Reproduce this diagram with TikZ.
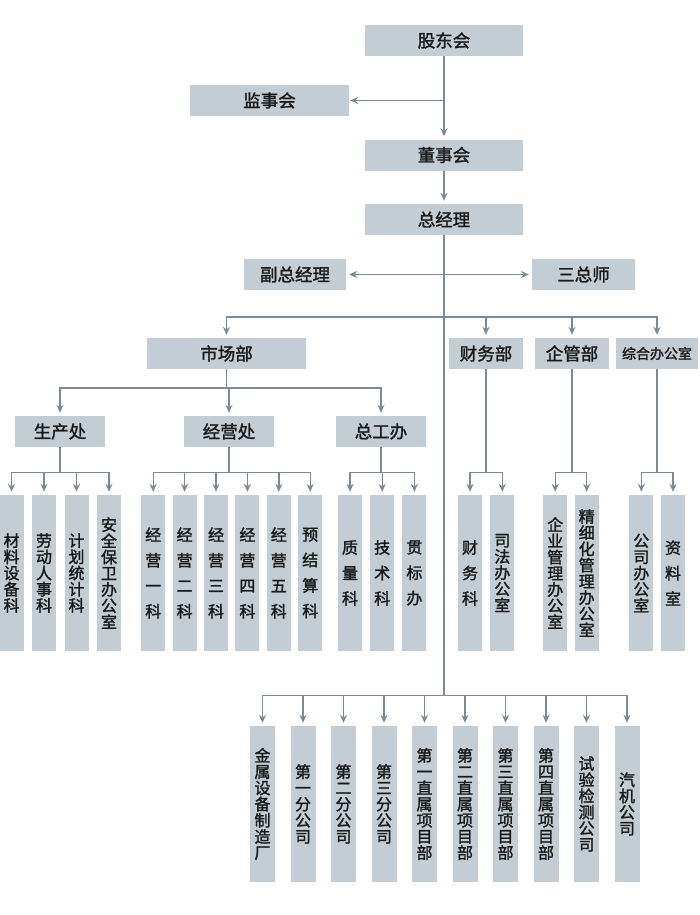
\documentclass[tikz,border=0pt]{standalone}
\usepackage{fontspec}
\newfontfamily\cjk[RawFeature={embolden=1.6}]{Noto Sans CJK SC}
\usetikzlibrary{arrows.meta}
\definecolor{boxgray}{HTML}{C3CDD3}
\definecolor{linegray}{HTML}{7B8A93}
\definecolor{textdark}{HTML}{1A1A1A}
\tikzset{
  box/.style={fill=boxgray, text=textdark, inner sep=0pt, minimum height=31pt,
    font=\cjk\fontsize{17.5}{18}\selectfont},
  leaf/.style={fill=boxgray, text=textdark, inner sep=0pt, minimum width=24pt,
    minimum height=156pt, align=center, font=\cjk\fontsize{16}{16.2}\selectfont},
  leafwide/.style={leaf, font=\cjk\fontsize{16}{25.5}\selectfont},
  conn/.style={draw=linegray, line width=1.4pt},
  arr/.style={conn, -{Stealth[length=8pt,width=7pt]}, shorten >=3pt},
}

\begin{document}
\begin{tikzpicture}[x=1pt,y=-1pt]
\useasboundingbox (0,0) rectangle (700,915);

% top of the chart
\node[box, minimum width=158pt] (gudong) at (444,40.5) {股东会};
\node[box, minimum width=159pt] (jianshi) at (269.5,100.5) {监事会};
\node[box, minimum width=158pt] (dongshi) at (444,155) {董事会};
\node[box, minimum width=158pt] (zongjingli) at (444,219.5) {总经理};
\node[box, minimum width=102pt] (fuzong) at (295,274.5) {副总经理};
\node[box, minimum width=103pt] (sanzongshi) at (583.5,274.5) {三总师};

\coordinate (jsfork) at (444,100.5);
\coordinate (gongbus) at (444,317);
\coordinate (fenbus) at (444,695.7);

\draw[arr] (gudong) -- (dongshi);
\draw[arr, shorten >=1pt] (jsfork) -- (jianshi);
\draw[arr] (dongshi) -- (zongjingli);
\draw[conn] (zongjingli) -- (fenbus);
\draw[conn, {Stealth[length=8pt,width=7pt]}-{Stealth[length=8pt,width=7pt]},
  shorten <=3pt, shorten >=3pt] (fuzong) -- (sanzongshi);

% departments
\node[box, minimum width=159pt] (shichang) at (226.5,353.5) {市场部};
\node[box, minimum width=74pt] (caiwu) at (486,353.5) {财务部};
\node[box, minimum width=74pt] (qiguan) at (572,353.5) {企管部};
\node[box, minimum width=82pt, font=\cjk\fontsize{14}{15}\selectfont] (zonghe) at (657,353.5) {综合办公室};
\foreach \n in {shichang,caiwu,qiguan,zonghe}
  \draw[arr] (gongbus) -| (\n);

\node[box, minimum width=90pt] (shengchan) at (60,431.5) {生产处};
\node[box, minimum width=90pt] (jingying) at (229,431.5) {经营处};
\node[box, minimum width=90pt] (zonggong) at (381,431.5) {总工办};
\coordinate (scfork) at (226.5,388);
\draw[conn] (shichang) -- (scfork);
\foreach \n in {shengchan,jingying,zonggong}
  \draw[arr] (scfork) -| (\n);

% sections
\foreach \t [count=\i] in {{材\\料\\设\\备\\科},{劳\\动\\人\\事\\科},{计\\划\\统\\计\\科},{安\\全\\保\\卫\\办\\公\\室}}
  \node[leaf] (sc\i) at ({11.5+32.5*(\i-1)},573) {\t};
\foreach \t [count=\i] in {{经\\营\\一\\科},{经\\营\\二\\科},{经\\营\\三\\科},{经\\营\\四\\科},{经\\营\\五\\科},{预\\结\\算\\科}}
  \node[leafwide] (jy\i) at ({153.2+31.4*(\i-1)},573) {\t};
\foreach \t [count=\i] in {{质\\量\\科},{技\\术\\科},{贯\\标\\办}}
  \node[leafwide] (zg\i) at ({350+32.2*(\i-1)},573) {\t};
\node[leafwide] (cw1) at (470,573) {财\\务\\科};
\node[leaf] (cw2) at (502.3,573) {司\\法\\办\\公\\室};
\node[leaf] (qg1) at (555.2,573) {企\\业\\管\\理\\办\\公\\室};
\node[leaf] (qg2) at (586.7,573) {精\\细\\化\\管\\理\\办\\公\\室};
\node[leaf] (zh1) at (641.3,573) {公\\司\\办\\公\\室};
\node[leafwide] (zh2) at (673,573) {资\\料\\室};

\coordinate (shengchanfork) at (60,472.3);
\coordinate (jingyingfork) at (229,472.3);
\coordinate (zonggongfork) at (381,472.3);
\coordinate (caiwufork) at (486,472.3);
\coordinate (qiguanfork) at (572,472.3);
\coordinate (zonghefork) at (657,472.3);
\draw[conn] (shengchan) -- (shengchanfork);
\draw[conn] (jingying) -- (jingyingfork);
\draw[conn] (zonggong) -- (zonggongfork);
\draw[conn] (caiwu) -- (caiwufork);
\draw[conn] (qiguan) -- (qiguanfork);
\draw[conn] (zonghe) -- (zonghefork);
\foreach \i in {1,...,4} \draw[arr] (shengchanfork) -| (sc\i);
\foreach \i in {1,...,6} \draw[arr] (jingyingfork) -| (jy\i);
\foreach \i in {1,...,3} \draw[arr] (zonggongfork) -| (zg\i);
\foreach \i in {1,2} {
  \draw[arr] (caiwufork) -| (cw\i);
  \draw[arr] (qiguanfork) -| (qg\i);
  \draw[arr] (zonghefork) -| (zh\i);
}

% branch companies
\foreach \t [count=\i] in {{金\\属\\设\\备\\制\\造\\厂},{第\\一\\分\\公\\司},{第\\二\\分\\公\\司},{第\\三\\分\\公\\司},{第\\一\\直\\属\\项\\目\\部},{第\\二\\直\\属\\项\\目\\部},{第\\三\\直\\属\\项\\目\\部},{第\\四\\直\\属\\项\\目\\部},{试\\验\\检\\测\\公\\司},{汽\\机\\公\\司}}
  \node[leaf, minimum width=25pt] (fb\i) at ({262.5+40.5*(\i-1)},804) {\t};
\foreach \i in {1,...,10} \draw[arr] (fenbus) -| (fb\i);
\end{tikzpicture}
\end{document}
